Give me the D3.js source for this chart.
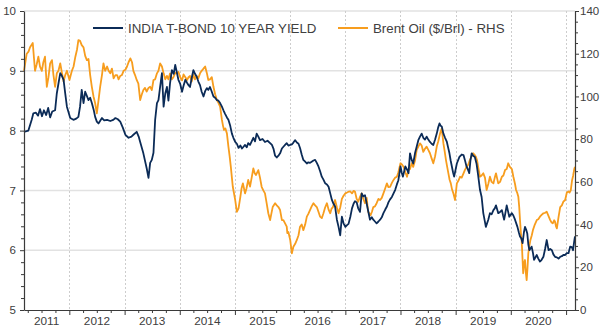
<!DOCTYPE html>
<html><head><meta charset="utf-8">
<script src="https://cdn.jsdelivr.net/npm/d3@7"></script>
<style>
body{margin:0;background:#fff;}
svg{display:block;font-family:"Liberation Sans",Arial,sans-serif;}
</style></head><body><svg id="c" width="606" height="330"></svg>
<script>
// ---------- DATA ----------
const seriesNames = ["INDIA T-BOND 10 YEAR YIELD", "Brent Oil ($/Brl) - RHS"];
const leftTicks = [5, 6, 7, 8, 9, 10];
const rightTicks = [0, 20, 40, 60, 80, 100, 120, 140];
const yearLabels = ["2011","2012","2013","2014","2015","2016","2017","2018","2019","2020"];

const yieldDates = [
"2011-03-07","2011-04-05","2011-04-27","2011-05-08","2011-05-25","2011-06-08","2011-06-21","2011-07-04","2011-07-17","2011-08-01",
"2011-08-14","2011-08-27","2011-09-10","2011-09-29","2011-10-10","2011-10-22","2011-11-02","2011-11-12","2011-11-24","2011-12-05",
"2011-12-16","2012-01-07","2012-01-28","2012-02-16","2012-03-01","2012-03-12","2012-03-23","2012-04-04","2012-04-15","2012-04-26",
"2012-05-07","2012-05-18","2012-05-29","2012-06-10","2012-06-20","2012-07-01","2012-07-12","2012-08-04","2012-08-19","2012-09-07",
"2012-09-28","2012-10-18","2012-11-01","2012-11-17","2012-12-03","2012-12-20","2013-01-06","2013-01-27","2013-02-15","2013-02-28",
"2013-03-22","2013-04-04","2013-04-14","2013-05-05","2013-05-27","2013-06-08","2013-06-19","2013-06-30","2013-07-11","2013-07-22",
"2013-08-03","2013-08-13","2013-08-24","2013-09-05","2013-09-16","2013-09-27","2013-10-08","2013-10-18","2013-10-29","2013-11-10",
"2013-11-22","2013-12-02","2013-12-23","2014-01-04","2014-01-16","2014-01-26","2014-02-07","2014-02-18","2014-02-28","2014-03-10",
"2014-03-21","2014-04-01","2014-04-12","2014-04-23","2014-05-04","2014-05-15","2014-05-26","2014-06-07","2014-06-18","2014-06-29",
"2014-07-09","2014-07-20","2014-08-01","2014-08-12","2014-08-23","2014-09-04","2014-09-14","2014-09-25","2014-10-07","2014-10-17",
"2014-10-28","2014-11-09","2014-11-19","2014-12-01","2014-12-12","2014-12-22","2015-01-03","2015-01-14","2015-01-25","2015-02-06",
"2015-02-17","2015-02-27","2015-03-09","2015-03-20","2015-03-30","2015-04-11","2015-04-22","2015-05-03","2015-05-14","2015-05-25",
"2015-06-05","2015-06-16","2015-07-03","2015-07-19","2015-08-05","2015-08-22","2015-09-03","2015-09-13","2015-09-24","2015-10-05",
"2015-10-16","2015-10-27","2015-11-08","2015-11-18","2015-11-29","2015-12-10","2015-12-21","2016-01-02","2016-01-13","2016-01-23",
"2016-02-04","2016-02-15","2016-02-26","2016-03-07","2016-03-18","2016-03-29","2016-04-10","2016-04-21","2016-05-01","2016-05-12",
"2016-05-23","2016-06-04","2016-06-15","2016-06-26","2016-07-07","2016-07-18","2016-07-29","2016-08-09","2016-08-20","2016-09-01",
"2016-09-12","2016-09-23","2016-10-04","2016-10-14","2016-10-25","2016-11-06","2016-11-17","2016-11-28","2016-12-09","2016-12-20",
"2017-01-01","2017-01-12","2017-01-22","2017-02-03","2017-02-14","2017-02-25","2017-03-06","2017-03-17","2017-03-27","2017-04-08",
"2017-04-19","2017-04-30","2017-05-11","2017-05-26","2017-06-13","2017-06-25","2017-07-05","2017-07-16","2017-07-27","2017-08-08",
"2017-08-19","2017-08-30","2017-09-10","2017-09-22","2017-10-03","2017-10-13","2017-10-24","2017-11-05","2017-11-16","2017-11-27",
"2017-12-08","2017-12-18","2018-01-01","2018-01-09","2018-01-17","2018-02-02","2018-02-13","2018-02-23","2018-03-05","2018-03-16",
"2018-03-26","2018-04-07","2018-04-18","2018-04-29","2018-05-10","2018-05-21","2018-06-01","2018-06-12","2018-06-23","2018-07-04",
"2018-07-15","2018-07-26","2018-08-06","2018-08-18","2018-08-29","2018-09-07","2018-09-16","2018-09-24","2018-10-01","2018-10-12",
"2018-10-23","2018-11-04","2018-11-12","2018-11-21","2018-11-29","2018-12-07","2018-12-15","2018-12-22","2019-01-09","2019-01-26",
"2019-02-10","2019-02-22","2019-03-03","2019-03-14","2019-03-23","2019-04-01","2019-04-09","2019-04-17","2019-04-27","2019-05-08",
"2019-05-19","2019-05-30","2019-06-11","2019-06-22","2019-07-03","2019-07-12","2019-07-20","2019-08-05","2019-08-16","2019-08-27",
"2019-09-08","2019-09-17","2019-09-25","2019-10-03","2019-10-10","2019-10-22","2019-11-03","2019-11-11","2019-11-18","2019-11-26",
"2019-12-05","2019-12-14","2019-12-22","2020-01-08","2020-01-18","2020-01-29","2020-02-14","2020-02-23","2020-03-02","2020-03-10",
"2020-03-19","2020-03-28","2020-04-04","2020-04-12","2020-04-19","2020-04-26","2020-05-03","2020-05-18","2020-05-27","2020-06-03",
"2020-06-21","2020-07-01","2020-07-12","2020-07-23","2020-08-04","2020-08-15","2020-08-26","2020-09-07","2020-09-18","2020-09-29",
"2020-10-09","2020-10-20","2020-11-01","2020-11-12","2020-11-23","2020-12-04","2020-12-14","2020-12-26","2021-01-06","2021-01-17",
"2021-01-28","2021-02-08","2021-02-16","2021-02-24","2021-03-01"
];
const yieldValues = [
7.98,8.00,8.18,8.29,8.30,8.25,8.36,8.24,8.34,8.26,
8.38,8.22,8.32,8.34,8.62,8.80,8.96,8.92,8.85,8.62,
8.40,8.21,8.18,8.20,8.23,8.40,8.68,8.46,8.65,8.58,
8.51,8.55,8.46,8.35,8.23,8.15,8.12,8.21,8.17,8.18,
8.16,8.18,8.21,8.19,8.15,8.05,7.93,7.88,7.90,7.93,
7.98,7.90,7.81,7.62,7.37,7.21,7.46,7.51,7.63,8.18,
8.46,8.51,8.73,8.96,8.40,8.62,8.73,8.50,8.80,9.01,
8.95,9.10,8.85,8.78,8.65,8.75,8.85,8.80,8.76,8.73,
8.88,9.01,8.95,8.90,8.82,8.76,8.65,8.57,8.66,8.71,
8.68,8.73,8.65,8.57,8.55,8.51,8.50,8.46,8.40,8.34,
8.28,8.22,8.18,8.08,7.95,7.88,7.81,7.78,7.71,7.75,
7.70,7.73,7.76,7.72,7.79,7.76,7.82,7.88,7.82,7.95,
7.90,7.84,7.86,7.81,7.83,7.79,7.76,7.70,7.58,7.55,
7.58,7.62,7.70,7.73,7.76,7.79,7.75,7.76,7.77,7.80,
7.84,7.80,7.78,7.71,7.60,7.51,7.48,7.45,7.47,7.46,
7.48,7.50,7.51,7.46,7.40,7.32,7.23,7.18,7.12,7.10,
7.06,6.95,6.84,6.78,6.73,6.51,6.39,6.25,6.56,6.45,
6.39,6.42,6.44,6.56,6.70,6.78,6.82,6.80,6.70,6.64,
6.95,6.90,6.92,6.73,6.51,6.55,6.51,6.48,6.45,6.48,
6.51,6.55,6.62,6.68,6.73,6.80,6.85,6.89,6.95,7.01,
7.10,7.17,7.40,7.30,7.23,7.40,7.35,7.29,7.62,7.51,
7.45,7.62,7.73,7.84,7.90,7.95,7.88,7.85,7.90,7.85,
7.81,7.78,7.76,7.85,7.95,8.05,8.12,8.08,8.07,7.95,
7.88,7.81,7.72,7.62,7.50,7.40,7.30,7.23,7.45,7.56,
7.60,7.59,7.51,7.40,7.35,7.29,7.50,7.62,7.58,7.56,
7.45,7.25,7.01,6.89,6.62,6.50,6.39,6.51,6.62,6.60,
6.67,6.70,6.75,6.68,6.62,6.64,6.67,6.58,6.51,6.62,
6.75,6.65,6.56,6.62,6.58,6.51,6.39,6.30,6.23,6.20,
6.12,6.30,6.39,6.34,6.28,6.10,6.00,6.06,5.95,5.84,
5.92,5.86,5.81,5.84,5.89,6.02,6.17,6.00,6.02,6.00,
5.93,5.89,5.88,5.86,5.89,5.90,5.92,5.92,5.95,5.95,
6.06,6.05,6.00,6.15,6.23
];

const brentDates = [
"2011-03-07","2011-03-25","2011-04-06","2011-04-16","2011-05-04","2011-05-12","2011-05-19","2011-05-30","2011-06-10","2011-06-21",
"2011-07-03","2011-07-13","2011-07-24","2011-08-05","2011-08-16","2011-08-27","2011-09-08","2011-09-18","2011-09-29","2011-10-10",
"2011-10-21","2011-11-02","2011-11-13","2011-11-24","2011-12-05","2011-12-16","2012-01-02","2012-01-18","2012-01-29","2012-02-10",
"2012-02-21","2012-03-01","2012-03-12","2012-03-23","2012-04-04","2012-04-15","2012-04-26","2012-05-07","2012-05-18","2012-05-29",
"2012-06-09","2012-06-20","2012-07-01","2012-07-12","2012-07-23","2012-08-04","2012-08-14","2012-08-25","2012-09-07","2012-09-17",
"2012-09-28","2012-10-09","2012-10-20","2012-11-01","2012-11-12","2012-11-22","2012-12-03","2012-12-14","2012-12-25","2013-01-06",
"2013-01-17","2013-01-27","2013-02-08","2013-02-19","2013-02-28","2013-03-11","2013-03-22","2013-04-02","2013-04-14","2013-04-25",
"2013-05-05","2013-05-16","2013-05-27","2013-06-08","2013-06-19","2013-06-30","2013-07-11","2013-07-22","2013-08-03","2013-08-13",
"2013-08-24","2013-09-05","2013-09-16","2013-09-27","2013-10-08","2013-10-18","2013-10-29","2013-11-10","2013-11-20","2013-12-02",
"2013-12-13","2013-12-23","2014-01-04","2014-01-16","2014-01-26","2014-02-07","2014-02-18","2014-02-28","2014-03-10","2014-03-21",
"2014-04-01","2014-04-12","2014-04-23","2014-05-04","2014-05-15","2014-05-26","2014-06-07","2014-06-18","2014-06-29","2014-07-09",
"2014-07-20","2014-08-01","2014-08-12","2014-08-23","2014-09-04","2014-09-14","2014-09-25","2014-10-07","2014-10-15","2014-10-21",
"2014-10-30","2014-11-09","2014-11-19","2014-11-27","2014-12-05","2014-12-12","2014-12-18","2014-12-25","2015-01-03","2015-01-14",
"2015-01-25","2015-02-06","2015-02-14","2015-02-23","2015-03-09","2015-03-19","2015-03-30","2015-04-11","2015-04-22","2015-05-03",
"2015-05-12","2015-05-20","2015-06-05","2015-06-16","2015-06-27","2015-07-08","2015-07-19","2015-07-30","2015-08-10","2015-08-22",
"2015-08-30","2015-09-08","2015-09-24","2015-10-05","2015-10-16","2015-10-27","2015-11-08","2015-11-18","2015-11-29","2015-12-10",
"2015-12-14","2015-12-21","2016-01-02","2016-01-13","2016-01-23","2016-02-04","2016-02-15","2016-02-26","2016-03-07","2016-03-18",
"2016-03-29","2016-04-10","2016-04-21","2016-05-01","2016-05-12","2016-05-23","2016-06-04","2016-06-15","2016-06-26","2016-07-07",
"2016-07-18","2016-07-29","2016-08-09","2016-08-20","2016-09-01","2016-09-12","2016-09-23","2016-10-02","2016-10-11","2016-10-19",
"2016-10-25","2016-11-06","2016-11-17","2016-11-28","2016-12-09","2016-12-20","2017-01-01","2017-01-12","2017-01-22","2017-02-03",
"2017-02-14","2017-02-25","2017-03-06","2017-03-17","2017-03-27","2017-04-08","2017-04-19","2017-04-30","2017-05-11","2017-05-22",
"2017-06-01","2017-06-17","2017-06-26","2017-07-05","2017-07-16","2017-07-27","2017-08-08","2017-08-19","2017-08-30","2017-09-10",
"2017-09-22","2017-10-03","2017-10-13","2017-10-24","2017-11-05","2017-11-16","2017-11-27","2017-12-08","2017-12-18","2018-01-01",
"2018-01-12","2018-01-22","2018-02-02","2018-02-13","2018-02-23","2018-03-05","2018-03-16","2018-03-26","2018-04-07","2018-04-18",
"2018-04-29","2018-05-10","2018-05-21","2018-06-01","2018-06-12","2018-06-23","2018-07-04","2018-07-15","2018-07-26","2018-08-06",
"2018-08-18","2018-08-29","2018-09-08","2018-09-20","2018-10-01","2018-10-12","2018-10-21","2018-10-29","2018-11-06","2018-11-14",
"2018-11-22","2018-11-30","2018-12-08","2018-12-17","2018-12-28","2019-01-09","2019-01-19","2019-01-30","2019-02-10","2019-02-22",
"2019-03-03","2019-03-14","2019-03-25","2019-04-05","2019-04-17","2019-04-27","2019-05-08","2019-05-15","2019-05-23","2019-05-30",
"2019-06-11","2019-06-22","2019-07-03","2019-07-14","2019-07-25","2019-08-05","2019-08-16","2019-08-27","2019-09-08","2019-09-17",
"2019-09-25","2019-10-03","2019-10-10","2019-10-22","2019-11-03","2019-11-13","2019-11-24","2019-12-05","2019-12-15","2019-12-26",
"2020-01-08","2020-01-18","2020-01-29","2020-02-05","2020-02-12","2020-02-20","2020-02-26","2020-03-02","2020-03-08","2020-03-13",
"2020-03-18","2020-03-23","2020-03-29","2020-04-04","2020-04-09","2020-04-15","2020-04-20","2020-04-26","2020-05-03","2020-05-10",
"2020-05-19","2020-05-27","2020-06-08","2020-06-21","2020-07-01","2020-07-12","2020-07-23","2020-08-04","2020-08-15","2020-08-26",
"2020-09-07","2020-09-18","2020-09-27","2020-10-05","2020-10-14","2020-10-20","2020-10-27","2020-11-01","2020-11-12","2020-11-23",
"2020-12-04","2020-12-14","2020-12-26","2021-01-06","2021-01-17","2021-01-24","2021-02-01","2021-02-09","2021-02-17","2021-02-24",
"2021-03-01"
];
const brentValues = [
112,120,121,123,125,118,112,115,118.6,114,
112,116,118.6,104.5,109,115.5,117,110,104.5,110.8,
112,115.5,111,107,110,112,107.7,112,114,118.6,
122,126.4,126,124,123,119,117,117.5,110,104.5,
100,96.8,92.1,98,104.5,110,115.5,112,114,112,
110.8,113,108.5,110,110,108,109.6,110,112,112.5,
114,116,117.8,116,112,110,107.7,106,98.3,101,
103,104,102.3,104,104.5,103,107.7,108,110.8,112,
115.5,114,110.8,108,109.6,108,110.8,108,109,111,
110.8,111.5,109,107.5,110.3,109,107.7,109,109.6,107,
110.3,108,109.6,108.5,110.8,112,113,114,111,107.7,
108,109,104.5,101,98.3,97,95.2,89,86,84.3,
85,82.7,76.5,72,67,62,57.7,55,51.5,46,
47.6,53,57,59.3,54.6,57,60.9,57.8,62,66.3,
64,63.2,65.5,62,57.7,56,54.6,50,45.3,42.1,
45,48.2,50,49,48.2,46.8,42.1,42.1,40.6,39,
36,36.5,32.8,26.5,29.6,31,32.8,35,39,40,
37.4,40,43.7,45,46.8,48.5,50,49,48.2,46,
43.7,43,45.3,48,50,47,45.3,47.5,48.2,50,
51.5,48,45.3,48,52,53.5,54.6,55,55.4,55.5,
54.6,55.8,55.4,52,50.7,53,54.6,52,50,52.5,
46,44.4,46,48.2,48.5,50,52,51.5,52.5,54.6,
57,59.3,57.5,57.7,59.5,60.9,62,62.4,64.5,68.7,
68,67,64.5,62.4,65.5,66,68.7,67,70,74.9,
76.5,78,77,74,75.5,76.5,75,73.4,71,68.7,
72,76.5,79,82.7,85,78,74,70.2,67,64,
61,59.3,56.5,54.6,51.5,59.3,60.5,62.4,62,64,
65.5,67,68,70.2,72,73.4,72.5,71.8,70,67,
62.4,63,64,62,56.2,59,62.4,60,59.3,62,
64,61.5,59.3,60,62.4,63,65.5,66,68.7,67,
66,62.4,59,56.2,55,53,48,42.1,36,32.8,
25,17.2,22,23.4,18,14,19,26.5,30,32.8,
35,37.5,40,42.1,42.5,43.7,44.5,45.3,45.5,46,
44,42.1,41,40.6,42,41.3,39,38.2,43.5,48.2,
49,50.7,51.5,55,55.5,55,56,60.5,63,66,
67
];

// ---------- CHART ----------
const W = 606, H = 330;
const plot = {left: 24, right: 575, top: 11, bottom: 310};
const colors = {yield: "#0b2b57", brent: "#f79d1e", axis: "#3a3a3a", text: "#404040", grid: "#e2e2e2", vgrid: "#cdcdcd"};

const parse = d3.timeParse("%Y-%m-%d");
const yieldData = yieldDates.map((d, i) => ({date: parse(d), value: yieldValues[i]}));
const brentData = brentDates.map((d, i) => ({date: parse(d), value: brentValues[i]}));

const x = d3.scaleTime()
  .domain(d3.extent(yieldData.concat(brentData), d => d.date))
  .range([plot.left, plot.right]);
const yL = d3.scaleLinear().domain(d3.extent(leftTicks)).range([plot.bottom, plot.top]);
const yR = d3.scaleLinear().domain(d3.extent(rightTicks)).range([plot.bottom, plot.top]);

const svg = d3.select("#c");
svg.append("rect").attr("width", W).attr("height", H).attr("fill", "#fff");

// horizontal gridlines
svg.append("g").selectAll("line").data(leftTicks.slice(1)).join("line")
  .attr("x1", plot.left).attr("x2", plot.right)
  .attr("y1", d => yL(d)).attr("y2", d => yL(d))
  .attr("stroke", colors.grid).attr("stroke-width", 1.5);

// vertical year gridlines
const [d0, d1] = x.domain();
const yearStarts = d3.timeYear.range(d3.timeYear.ceil(d0), d1);
svg.append("g").selectAll("line").data(yearStarts).join("line")
  .attr("x1", d => Math.round(x(d)) + 0.5).attr("x2", d => Math.round(x(d)) + 0.5)
  .attr("y1", plot.top).attr("y2", plot.bottom)
  .attr("stroke", colors.vgrid).attr("stroke-width", 1).attr("stroke-dasharray", "2,2");

// lines
const lineL = d3.line().x(d => x(d.date)).y(d => yL(d.value)).curve(d3.curveLinear);
const lineR = d3.line().x(d => x(d.date)).y(d => yR(d.value)).curve(d3.curveLinear);
svg.append("path").datum(brentData).attr("d", lineR)
  .attr("fill", "none").attr("stroke", colors.brent).attr("stroke-width", 1.8).attr("stroke-linejoin", "round");
svg.append("path").datum(yieldData).attr("d", lineL)
  .attr("fill", "none").attr("stroke", colors.yield).attr("stroke-width", 1.8).attr("stroke-linejoin", "round");

// axes helpers
function styleAxis(g) {
  g.selectAll(".domain").attr("stroke", colors.axis).attr("stroke-width", 1.2);
  g.selectAll(".tick line").attr("stroke", colors.axis);
  g.selectAll("text").attr("fill", colors.text).style("font-size", "11.5px").style("font-family", '"Liberation Sans", Arial, sans-serif');
}
const leftMinor = d3.range(5, 10.0001, 0.2).map(v => +v.toFixed(1)).filter(v => !leftTicks.includes(v));
const rightMinor = d3.range(0, 140.0001, 5).filter(v => !rightTicks.includes(v));

// left axis
svg.append("g").attr("transform", `translate(${plot.left},0)`)
  .call(d3.axisLeft(yL).tickValues(leftMinor).tickFormat("").tickSize(3).tickSizeOuter(0))
  .call(g => g.select(".domain").remove())
  .call(styleAxis);
svg.append("g").attr("transform", `translate(${plot.left},0)`)
  .call(d3.axisLeft(yL).tickValues(leftTicks).tickFormat(d3.format("d")).tickSize(4).tickPadding(4).tickSizeOuter(0))
  .call(styleAxis);

// right axis
svg.append("g").attr("transform", `translate(${plot.right},0)`)
  .call(d3.axisRight(yR).tickValues(rightMinor).tickFormat("").tickSize(3).tickSizeOuter(0))
  .call(g => g.select(".domain").remove())
  .call(styleAxis);
svg.append("g").attr("transform", `translate(${plot.right},0)`)
  .call(d3.axisRight(yR).tickValues(rightTicks).tickFormat(d3.format("d")).tickSize(4).tickPadding(1).tickSizeOuter(0))
  .call(styleAxis);

// bottom axis
const quarterStarts = d3.timeMonth.every(3).range(d0, d1).filter(d => d.getMonth() !== 0);
svg.append("g").attr("transform", `translate(0,${plot.bottom})`)
  .call(d3.axisBottom(x).tickValues(quarterStarts).tickFormat("").tickSize(3).tickSizeOuter(0))
  .call(g => g.select(".domain").remove())
  .call(styleAxis);
svg.append("g").attr("transform", `translate(0,${plot.bottom})`)
  .call(d3.axisBottom(x).tickValues(yearStarts).tickFormat("").tickSize(5).tickSizeOuter(0))
  .call(styleAxis);

// year labels centred in visible year spans
svg.append("g").selectAll("text").data(yearLabels).join("text")
  .attr("x", d => {
    const a = new Date(+d, 0, 1), b = new Date(+d + 1, 0, 1);
    const s = a < d0 ? d0 : a, e = b > d1 ? d1 : b;
    return (x(s) + x(e)) / 2;
  })
  .attr("y", plot.bottom + 15)
  .attr("text-anchor", "middle")
  .attr("fill", colors.text)
  .style("font-size", "11.8px")
  .text(d => d);

// legend
const legend = svg.append("g");
const legendItems = [
  {name: seriesNames[0], color: colors.yield, x0: 93},
  {name: seriesNames[1], color: colors.brent, x0: 338}
];
legendItems.forEach(it => {
  legend.append("line").attr("x1", it.x0).attr("x2", it.x0 + 30).attr("y1", 28).attr("y2", 28)
    .attr("stroke", it.color).attr("stroke-width", 2);
  legend.append("text").attr("x", it.x0 + 35).attr("y", 32.5)
    .attr("fill", colors.text).style("font-size", "13.3px").text(it.name);
});
</script></body></html>
